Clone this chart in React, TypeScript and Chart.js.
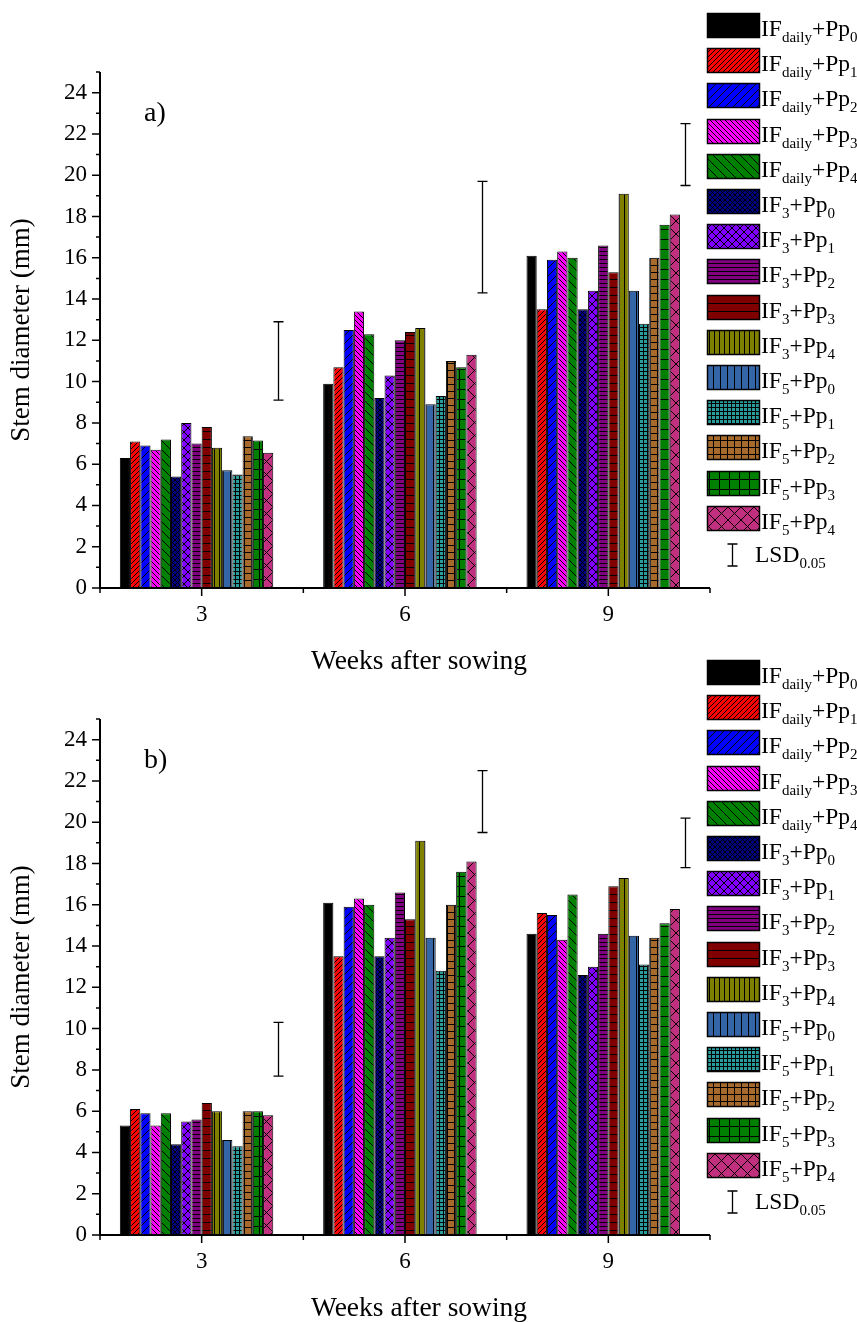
import React, { useEffect, useRef } from 'react';
import { Chart, registerables } from 'chart.js';

Chart.register(...registerables);

// ---------- data ----------
const weeks = ['3', '6', '9'];
const ifSubs = ['daily', 'daily', 'daily', 'daily', 'daily', '3', '3', '3', '3', '3', '5', '5', '5', '5', '5'];
const ppSubs = ['0', '1', '2', '3', '4', '0', '1', '2', '3', '4', '0', '1', '2', '3', '4'];
const yTicks = [0, 2, 4, 6, 8, 10, 12, 14, 16, 18, 20, 22, 24];
const xTitle = 'Weeks after sowing';
const yTitle = 'Stem diameter (mm)';

// panel a) — one value per series (15) for each week
const aWeek3 = [6.3, 7.1, 6.9, 6.7, 7.2, 5.4, 8.0, 7.0, 7.8, 6.8, 5.7, 5.5, 7.35, 7.15, 6.55];
const aWeek6 = [9.9, 10.7, 12.5, 13.4, 12.3, 9.2, 10.3, 12.0, 12.4, 12.6, 8.9, 9.3, 11.0, 10.7, 11.3];
const aWeek9 = [16.1, 13.5, 15.9, 16.3, 16.0, 13.5, 14.4, 16.6, 15.3, 19.1, 14.4, 12.8, 16.0, 17.6, 18.1];
const aLsdLow = [9.1, 14.3, 19.5];
const aLsdHigh = [12.9, 19.7, 22.5];

// panel b)
const bWeek3 = [5.3, 6.1, 5.9, 5.3, 5.9, 4.4, 5.5, 5.6, 6.4, 6.0, 4.6, 4.3, 6.0, 6.0, 5.8];
const bWeek6 = [16.1, 13.5, 15.9, 16.3, 16.0, 13.5, 14.4, 16.6, 15.3, 19.1, 14.4, 12.8, 16.0, 17.6, 18.1];
const bWeek9 = [14.6, 15.6, 15.5, 14.3, 16.5, 12.6, 13.0, 14.6, 16.9, 17.3, 14.5, 13.1, 14.4, 15.1, 15.8];
const bLsdLow = [7.7, 19.5, 17.8];
const bLsdHigh = [10.3, 22.5, 20.2];

// ---------- styles ----------
const seriesColors = [
  '#000000', '#ff0000', '#0000ff', '#ff00ff', '#008000',
  '#000080', '#8000ff', '#800080', '#800000', '#808000',
  '#3465a6', '#2a9c9c', '#a66a2c', '#008000', '#c0307f',
];
const seriesHatch = [
  'solid', 'fwd', 'fwd', 'back', 'back',
  'cross', 'cross', 'horiz', 'horiz', 'vert',
  'vert', 'grid', 'grid', 'grid', 'cross',
];
const seriesHatchSize = [0, 5, 8, 5, 9, 5, 8, 4, 8, 5, 7, 4, 7, 10, 13];

const SERIF = "'Liberation Serif', 'Times New Roman', serif";
const CANVAS_W = 857;
const CANVAS_H = 690;

function makePattern(ctx: CanvasRenderingContext2D, color: string, kind: string, s: number): any {
  if (kind === 'solid') return color;
  const c = document.createElement('canvas');
  c.width = s;
  c.height = s;
  const g = c.getContext('2d')!;
  g.fillStyle = color;
  g.fillRect(0, 0, s, s);
  g.strokeStyle = '#000';
  g.lineWidth = 1;
  g.beginPath();
  const fwd = () => {
    g.moveTo(0, s); g.lineTo(s, 0);
    g.moveTo(-s / 2, s / 2); g.lineTo(s / 2, -s / 2);
    g.moveTo(s / 2, s * 1.5); g.lineTo(s * 1.5, s / 2);
  };
  const back = () => {
    g.moveTo(0, 0); g.lineTo(s, s);
    g.moveTo(s / 2, -s / 2); g.lineTo(s * 1.5, s / 2);
    g.moveTo(-s / 2, s / 2); g.lineTo(s / 2, s * 1.5);
  };
  const horiz = () => { g.moveTo(0, s - 0.5); g.lineTo(s, s - 0.5); };
  const vert = () => { g.moveTo(s - 0.5, 0); g.lineTo(s - 0.5, s); };
  if (kind === 'fwd') fwd();
  if (kind === 'back') back();
  if (kind === 'cross') { fwd(); back(); }
  if (kind === 'horiz') horiz();
  if (kind === 'vert') vert();
  if (kind === 'grid') { horiz(); vert(); }
  g.stroke();
  return ctx.createPattern(c, 'repeat');
}

function drawLegendText(ctx: CanvasRenderingContext2D, x: number, base: number, parts: [string, boolean][]) {
  let cx = x;
  for (const [t, sub] of parts) {
    ctx.font = sub ? `15px ${SERIF}` : `23.5px ${SERIF}`;
    ctx.fillText(t, cx, sub ? base + 6 : base);
    cx += ctx.measureText(t).width;
  }
}

function makeDecor(tag: string, lsdLow: number[], lsdHigh: number[], patterns: any[]) {
  return {
    id: 'decor',
    afterDatasetsDraw(chart: any) {
      const { ctx, chartArea, scales } = chart;
      const xs = scales.x;
      const ys = scales.y;
      ctx.save();
      ctx.strokeStyle = '#000';
      ctx.fillStyle = '#000';
      // LSD error bars (16th slot of each group)
      const meta = chart.getDatasetMeta(15);
      ctx.lineWidth = 1.3;
      meta.data.forEach((el: any, i: number) => {
        const cx = Math.round(el.x) + 0.5;
        const y1 = ys.getPixelForValue(lsdLow[i]);
        const y2 = ys.getPixelForValue(lsdHigh[i]);
        ctx.beginPath();
        ctx.moveTo(cx, y1); ctx.lineTo(cx, y2);
        ctx.moveTo(cx - 5, y1); ctx.lineTo(cx + 5, y1);
        ctx.moveTo(cx - 5, y2); ctx.lineTo(cx + 5, y2);
        ctx.stroke();
      });
      // axes
      const L = chartArea.left;
      const R = chartArea.right;
      const B = chartArea.bottom;
      const T = ys.getPixelForValue(25);
      ctx.lineWidth = 2;
      ctx.beginPath();
      ctx.moveTo(L, T); ctx.lineTo(L, B + 1);
      ctx.moveTo(L - 1, B); ctx.lineTo(R, B);
      ctx.stroke();
      ctx.lineWidth = 1.5;
      ctx.beginPath();
      for (let v = 0; v <= 25; v++) {
        const py = ys.getPixelForValue(v);
        const len = v % 2 === 0 ? 8 : 4;
        ctx.moveTo(L - len, py); ctx.lineTo(L, py);
      }
      for (let i = 0; i < weeks.length; i++) {
        const px = xs.getPixelForValue(i);
        ctx.moveTo(px, B); ctx.lineTo(px, B + 8);
      }
      for (let i = 0; i <= weeks.length; i++) {
        const px = xs.getPixelForValue(i - 0.5);
        ctx.moveTo(px, B); ctx.lineTo(px, B + 5);
      }
      ctx.stroke();

      // x axis title
      ctx.font = `27.5px ${SERIF}`;
      ctx.textAlign = 'center';
      ctx.textBaseline = 'middle';
      ctx.fillText(xTitle, (L + R) / 2 + 14, B + 74);

      // panel tag
      ctx.font = `28px ${SERIF}`;
      ctx.textBaseline = 'alphabetic';
      ctx.textAlign = 'left';
      ctx.fillText(tag, 144, 121);

      // legend
      const sx = 707, sw = 53, sh = 25, top0 = 13, pitch = 35.2;
      for (let s = 0; s < 15; s++) {
        const ty = Math.round(top0 + s * pitch);
        ctx.fillStyle = patterns[s];
        ctx.fillRect(sx, ty, sw, sh);
        ctx.lineWidth = 1.5;
        ctx.strokeStyle = '#000';
        ctx.strokeRect(sx + 0.5, ty + 0.5, sw - 1, sh - 1);
        ctx.fillStyle = '#000';
        drawLegendText(ctx, 761, ty + 23, [['IF', false], [ifSubs[s], true], ['+Pp', false], [ppSubs[s], true]]);
      }
      const ly = top0 + 15 * pitch;
      ctx.lineWidth = 1.3;
      ctx.beginPath();
      ctx.moveTo(732.5, ly + 3); ctx.lineTo(732.5, ly + 25);
      ctx.moveTo(727.5, ly + 3); ctx.lineTo(737.5, ly + 3);
      ctx.moveTo(727.5, ly + 25); ctx.lineTo(737.5, ly + 25);
      ctx.stroke();
      drawLegendText(ctx, 755, ly + 21, [['LSD', false], ['0.05', true]]);
      ctx.restore();
    },
  };
}

function Panel(props: { tag: string; top: number; weekValues: number[][]; lsdLow: number[]; lsdHigh: number[] }) {
  const ref = useRef<HTMLCanvasElement>(null);
  useEffect(() => {
    const canvas = ref.current!;
    const ctx = canvas.getContext('2d')!;
    const patterns = seriesColors.map((c, s) => makePattern(ctx, c, seriesHatch[s], seriesHatchSize[s]));
    const datasets: any[] = patterns.map((p, s) => ({
      label: `IF${ifSubs[s]}+Pp${ppSubs[s]}`,
      data: props.weekValues.map((w) => w[s]),
      backgroundColor: p,
      borderColor: '#000',
      borderWidth: 1,
    }));
    datasets.push({
      label: 'LSD0.05',
      data: props.lsdLow.map((lo, i) => [lo, props.lsdHigh[i]]),
      backgroundColor: 'rgba(0,0,0,0)',
      borderWidth: 0,
    });
    const tickFont = { family: SERIF, size: 23 };
    const titleFont = { family: SERIF, size: 27 };
    const chart = new Chart(canvas, {
      type: 'bar',
      data: { labels: weeks, datasets },
      options: {
        responsive: false,
        animation: false,
        layout: { padding: { left: 0, right: CANVAS_W - 710, top: 72, bottom: 0 } },
        plugins: { legend: { display: false }, tooltip: { enabled: false }, title: { display: false } },
        datasets: { bar: { categoryPercentage: 0.805, barPercentage: 1 } },
        scales: {
          x: {
            type: 'category',
            offset: true,
            grid: { display: false, drawTicks: false },
            border: { display: false },
            ticks: { font: tickFont, color: '#000', padding: 13, maxRotation: 0, autoSkip: false },
            title: { display: false },
            afterFit: (s: any) => {
              s.height = CANVAS_H - 588;
              s.paddingLeft = 0;
              s.paddingRight = 0;
            },
          },
          y: {
            type: 'linear',
            min: 0,
            max: 25,
            afterBuildTicks: (s: any) => {
              s.ticks = yTicks.map((v) => ({ value: v }));
            },
            grid: { display: false, drawTicks: false },
            border: { display: false },
            ticks: { font: tickFont, color: '#000', padding: 13 },
            title: { display: true, text: yTitle, font: titleFont, color: '#000', padding: { top: 6, bottom: 0 } },
            afterFit: (s: any) => {
              s.width = 100;
              s.paddingTop = 0;
              s.paddingBottom = 0;
            },
          },
        },
      } as any,
      plugins: [makeDecor(props.tag, props.lsdLow, props.lsdHigh, patterns)],
    });
    return () => chart.destroy();
  }, []);
  return (
    <canvas
      ref={ref}
      width={CANVAS_W}
      height={CANVAS_H}
      style={{ position: 'absolute', left: 0, top: props.top, width: CANVAS_W, height: CANVAS_H }}
    />
  );
}

export default function App() {
  return (
    <div style={{ position: 'absolute', left: 0, top: 0, width: 857, height: 1322, overflow: 'hidden', background: '#fff' }}>
      <Panel tag="a)" top={0} weekValues={[aWeek3, aWeek6, aWeek9]} lsdLow={aLsdLow} lsdHigh={aLsdHigh} />
      <Panel tag="b)" top={647} weekValues={[bWeek3, bWeek6, bWeek9]} lsdLow={bLsdLow} lsdHigh={bLsdHigh} />
    </div>
  );
}
